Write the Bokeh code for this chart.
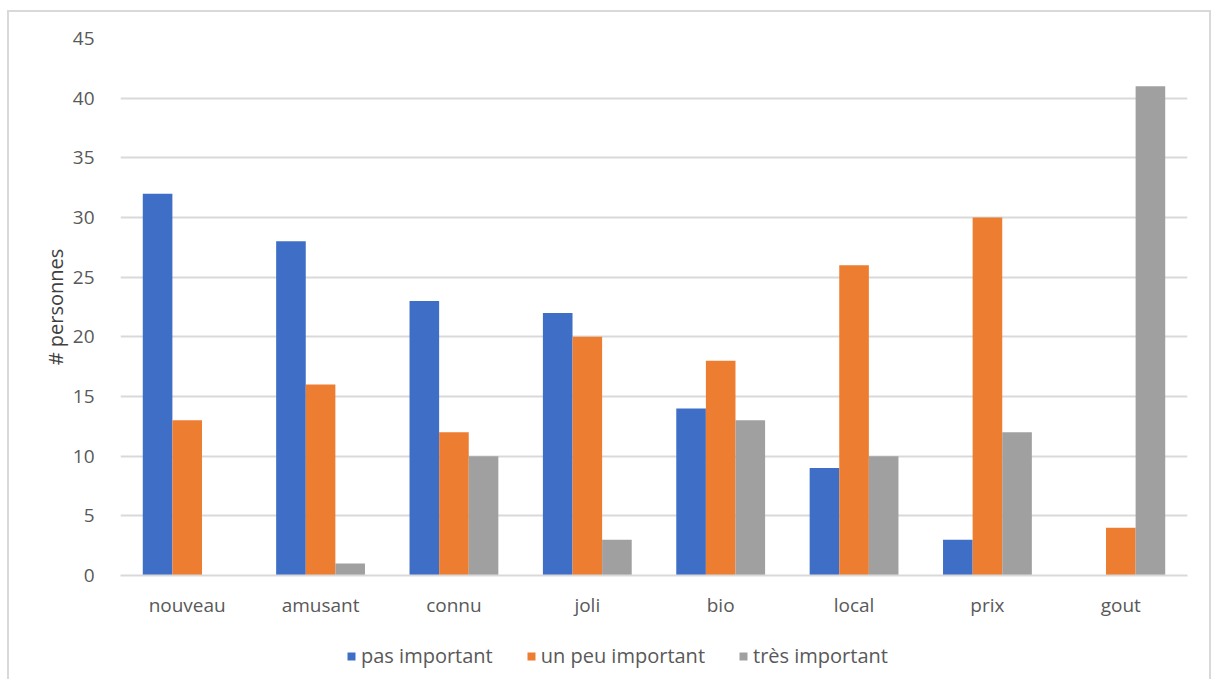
from bokeh.plotting import figure
from bokeh.models import ColumnDataSource, FactorRange, Range1d, FixedTicker, Legend, LegendItem
from bokeh.layouts import column
from bokeh.transform import dodge
from bokeh.embed import file_html
from bokeh.resources import INLINE

categories = ["nouveau", "amusant", "connu", "joli", "bio", "local", "prix", "gout"]
pas_important = [32, 28, 23, 22, 14, 9, 3, 0]
un_peu_important = [13, 16, 12, 20, 18, 26, 30, 4]
tres_important = [0, 1, 10, 3, 13, 10, 12, 41]
series_names = ["pas important", "un peu important", "très important"]
y_ticks = [0, 5, 10, 15, 20, 25, 30, 35, 40, 45]

colors = ["#3F6EC6", "#ED7D31", "#A0A0A0"]
FONT = "Open Sans"
keys = ["a", "b", "c"]
offsets = [-0.222, 0.0, 0.222]

src = ColumnDataSource(dict(cat=categories, a=pas_important, b=un_peu_important, c=tres_important))

p = figure(x_range=FactorRange(*categories, range_padding=0), y_range=Range1d(0, 45),
           width=1200, height=615, output_backend="svg", toolbar_location=None,
           min_border_left=111, min_border_right=22, min_border_top=26, min_border_bottom=52)

for key, off, col in zip(keys, offsets, colors):
    p.vbar(x=dodge("cat", off, range=p.x_range), top=key, width=0.222, source=src,
           fill_color=col, line_color=None)

p.outline_line_color = None
p.xgrid.grid_line_color = None
p.ygrid.grid_line_color = "#d9d9d9"
p.ygrid.grid_line_width = 2
p.yaxis.ticker = FixedTicker(ticks=y_ticks)
p.yaxis.axis_line_color = None
p.yaxis.major_tick_line_color = None
p.yaxis.minor_tick_line_color = None
p.yaxis.major_label_text_font = FONT
p.yaxis.major_label_text_font_size = "19px"
p.yaxis.major_label_text_color = "#595959"
p.yaxis.major_label_standoff = 20
p.yaxis.axis_label = "# personnes"
p.yaxis.axis_label_text_font = FONT
p.yaxis.axis_label_text_font_size = "20px"
p.yaxis.axis_label_text_font_style = "normal"
p.yaxis.axis_label_text_color = "#404040"
p.yaxis.axis_label_standoff = 1

p.xaxis.axis_line_color = "#d9d9d9"
p.xaxis.axis_line_width = 2
p.xaxis.major_tick_line_color = None
p.xaxis.minor_tick_line_color = None
p.xaxis.major_label_text_font = FONT
p.xaxis.major_label_text_font_size = "19px"
p.xaxis.major_label_text_color = "#595959"
p.xaxis.major_label_standoff = 10

# legend strip below the chart (its bars lie outside its y range, only the legend shows)
p2 = figure(x_range=p.x_range, y_range=Range1d(1000, 1001), width=1200, height=70,
            output_backend="svg", toolbar_location=None,
            x_axis_location=None, y_axis_location=None,
            min_border_left=0, min_border_right=0, min_border_top=0, min_border_bottom=0)
p2.grid.visible = False
p2.outline_line_color = None
leg_renderers = []
for key, off, col in zip(keys, offsets, colors):
    r = p2.vbar(x=dodge("cat", off, range=p2.x_range), top=key, width=0.222, source=src,
                fill_color=col, line_color=None)
    leg_renderers.append(r)

legend = Legend(items=[LegendItem(label=n, renderers=[r]) for n, r in zip(series_names, leg_renderers)],
                orientation="horizontal", location=(226, 28))
legend.label_text_font = FONT
legend.label_text_font_size = "20px"
legend.label_text_color = "#595959"
legend.glyph_width = 10
legend.glyph_height = 10
legend.label_standoff = 5
legend.spacing = 33
legend.padding = 0
legend.margin = 0
legend.border_line_color = None
legend.background_fill_alpha = 0
p2.add_layout(legend, "center")

layout = column(p, p2, spacing=0,
                styles={"margin-left": "7px", "margin-top": "10px", "border": "2px solid #d9d9d9"})

open("out.html", "w").write(file_html(layout, INLINE))
